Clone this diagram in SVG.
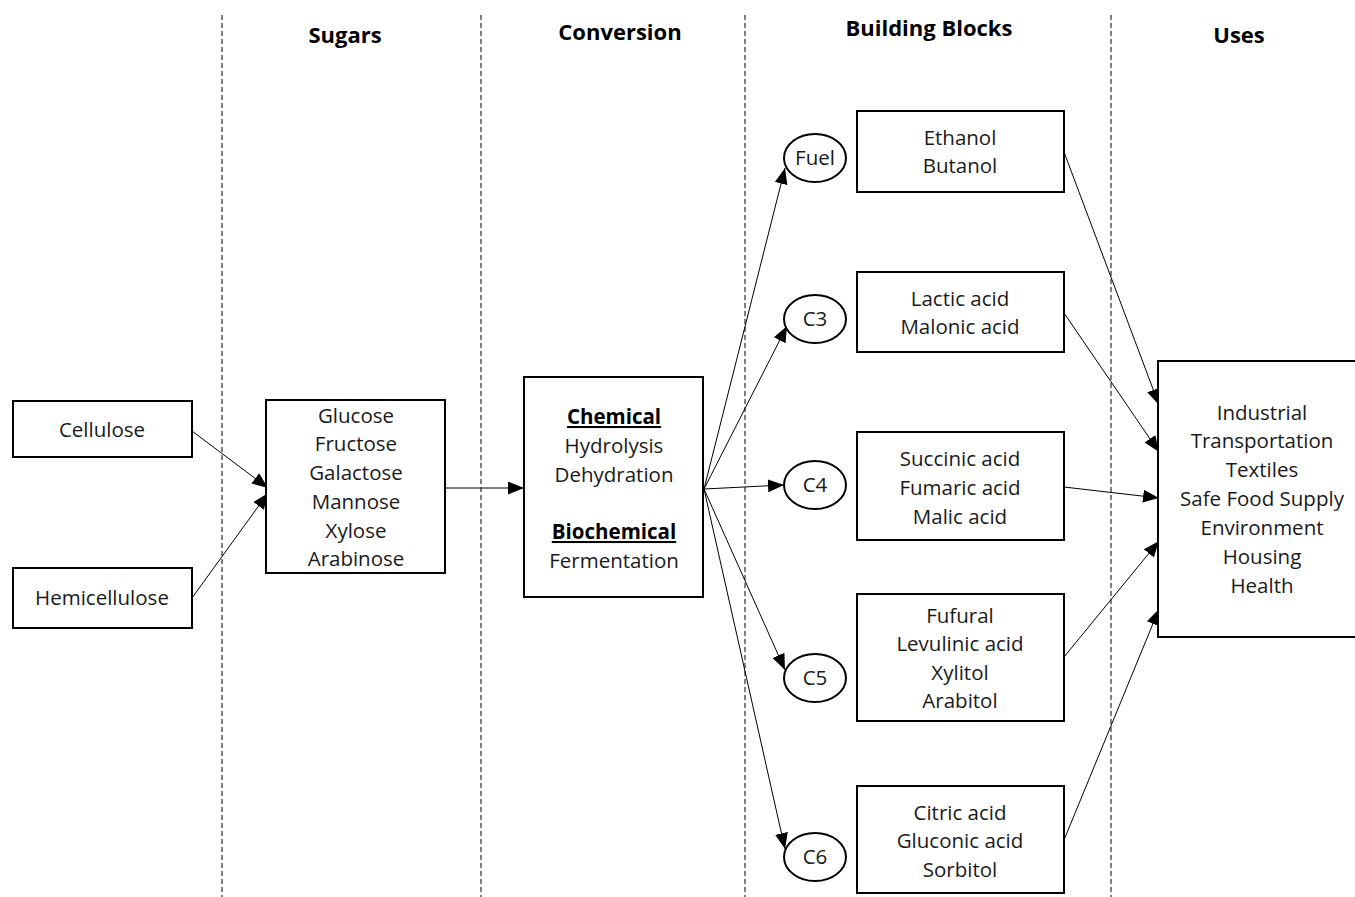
<svg xmlns="http://www.w3.org/2000/svg" width="1355" height="897" viewBox="0 0 1355 897">
<style>
.box{fill:#fff;stroke:#000;stroke-width:2}
.circ{fill:#fff;stroke:#000;stroke-width:2}
.t{font-family:"Open Sans","Liberation Sans",sans-serif;font-size:20.5px;fill:#1a1a1a;text-anchor:middle}
.h{font-family:"Open Sans","Liberation Sans",sans-serif;font-size:22px;font-weight:bold;fill:#000;text-anchor:middle}
.b{font-weight:bold;text-decoration:underline;fill:#000}
.dash{stroke:#000;stroke-width:1;stroke-dasharray:5,3}
.c{stroke:#000;stroke-width:1;fill:none;marker-end:url(#ah)}
</style>
<defs>
<marker id="ah" markerUnits="userSpaceOnUse" markerWidth="17" markerHeight="13" refX="16" refY="6.5" orient="auto">
<path d="M0,0 L16,6.5 L0,13 z" fill="#000"/>
</marker>
</defs>
<rect width="1355" height="897" fill="#fff"/>
<g id="dividers">
<line class="dash" x1="222" y1="15" x2="222" y2="897"/>
<line class="dash" x1="481" y1="15" x2="481" y2="897"/>
<line class="dash" x1="745" y1="15" x2="745" y2="897"/>
<line class="dash" x1="1111" y1="15" x2="1111" y2="897"/>
</g>
<g id="headers">
<text class="h" x="345" y="43">Sugars</text>
<text class="h" x="620" y="40">Conversion</text>
<text class="h" x="929" y="36">Building Blocks</text>
<text class="h" x="1239" y="43">Uses</text>
</g>
<g id="connectors">
<line class="c" x1="192" y1="431" x2="268" y2="488"/>
<line class="c" x1="192" y1="598" x2="268" y2="493"/>
<line class="c" x1="445" y1="488" x2="524" y2="488"/>
<line class="c" x1="704" y1="489" x2="785" y2="168"/>
<line class="c" x1="704" y1="489" x2="787" y2="326"/>
<line class="c" x1="704" y1="489" x2="784" y2="485"/>
<line class="c" x1="704" y1="489" x2="785" y2="670"/>
<line class="c" x1="704" y1="489" x2="785" y2="849"/>
<line class="c" x1="1064" y1="152" x2="1159" y2="405"/>
<line class="c" x1="1064" y1="313" x2="1159" y2="452"/>
<line class="c" x1="1064" y1="487" x2="1159" y2="498"/>
<line class="c" x1="1064" y1="657" x2="1159" y2="541"/>
<line class="c" x1="1064" y1="840" x2="1159" y2="609"/>
</g>
<g id="cellulose">
<rect class="box" x="13" y="401" width="179" height="56"/>
<text class="t" x="102" y="437">Cellulose</text>
</g>
<g id="hemicellulose">
<rect class="box" x="13" y="568" width="179" height="60"/>
<text class="t" x="102" y="605">Hemicellulose</text>
</g>
<g id="sugars">
<rect class="box" x="266" y="400" width="179" height="173"/>
<text class="t" x="356" y="423">Glucose</text>
<text class="t" x="356" y="451">Fructose</text>
<text class="t" x="356" y="480">Galactose</text>
<text class="t" x="356" y="509">Mannose</text>
<text class="t" x="356" y="538">Xylose</text>
<text class="t" x="356" y="566">Arabinose</text>
</g>
<g id="conversion">
<rect class="box" x="524" y="377" width="179" height="220"/>
<text class="t b" x="614" y="424">Chemical</text>
<text class="t" x="614" y="453">Hydrolysis</text>
<text class="t" x="614" y="482">Dehydration</text>
<text class="t b" x="614" y="539">Biochemical</text>
<text class="t" x="614" y="568">Fermentation</text>
</g>
<g id="fuel">
<ellipse class="circ" cx="815" cy="158" rx="31" ry="24"/>
<text class="t" x="815" y="165">Fuel</text>
</g>
<g id="c3">
<ellipse class="circ" cx="815" cy="319" rx="31" ry="24"/>
<text class="t" x="815" y="326">C3</text>
</g>
<g id="c4">
<ellipse class="circ" cx="815" cy="485" rx="31" ry="24"/>
<text class="t" x="815" y="492">C4</text>
</g>
<g id="c5">
<ellipse class="circ" cx="815" cy="678" rx="31" ry="24"/>
<text class="t" x="815" y="685">C5</text>
</g>
<g id="c6">
<ellipse class="circ" cx="815" cy="857" rx="31" ry="24"/>
<text class="t" x="815" y="864">C6</text>
</g>
<g id="fuel-products">
<rect class="box" x="857" y="111" width="207" height="81"/>
<text class="t" x="960" y="145">Ethanol</text>
<text class="t" x="960" y="173">Butanol</text>
</g>
<g id="c3-products">
<rect class="box" x="857" y="272" width="207" height="80"/>
<text class="t" x="960" y="306">Lactic acid</text>
<text class="t" x="960" y="334">Malonic acid</text>
</g>
<g id="c4-products">
<rect class="box" x="857" y="432" width="207" height="108"/>
<text class="t" x="960" y="466">Succinic acid</text>
<text class="t" x="960" y="495">Fumaric acid</text>
<text class="t" x="960" y="524">Malic acid</text>
</g>
<g id="c5-products">
<rect class="box" x="857" y="594" width="207" height="127"/>
<text class="t" x="960" y="623">Fufural</text>
<text class="t" x="960" y="651">Levulinic acid</text>
<text class="t" x="960" y="680">Xylitol</text>
<text class="t" x="960" y="708">Arabitol</text>
</g>
<g id="c6-products">
<rect class="box" x="857" y="786" width="207" height="107"/>
<text class="t" x="960" y="820">Citric acid</text>
<text class="t" x="960" y="848">Gluconic acid</text>
<text class="t" x="960" y="877">Sorbitol</text>
</g>
<g id="uses">
<rect class="box" x="1158" y="361" width="205" height="276"/>
<text class="t" x="1262" y="420">Industrial</text>
<text class="t" x="1262" y="448">Transportation</text>
<text class="t" x="1262" y="477">Textiles</text>
<text class="t" x="1262" y="506">Safe Food Supply</text>
<text class="t" x="1262" y="535">Environment</text>
<text class="t" x="1262" y="564">Housing</text>
<text class="t" x="1262" y="593">Health</text>
</g>
</svg>
